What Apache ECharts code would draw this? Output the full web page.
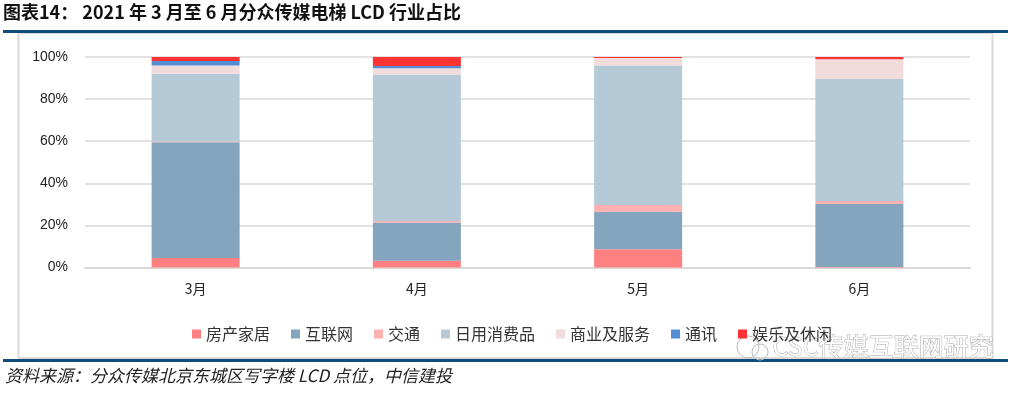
<!DOCTYPE html>
<html><head><meta charset="utf-8">
<script src="https://cdn.jsdelivr.net/npm/echarts@6/dist/echarts.min.js"></script>
<style>html,body{margin:0;padding:0;background:#fff}#c{width:1028px;height:394px}</style>
</head><body><div id="c"></div>
<script>
const categories = ['3月', '4月', '5月', '6月'];
const seriesNames = ['房产家居', '互联网', '交通', '日用消费品', '商业及服务', '通讯', '娱乐及休闲'];
const fangchan   = [4.5, 3.2, 8.7, 0.2];
const hulianwang = [55.0, 18.2, 17.8, 30.0];
const jiaotong   = [0.3, 0.7, 3.2, 1.4];
const riyong     = [32.3, 69.6, 66.3, 57.9];
const shangye    = [3.9, 2.9, 3.5, 9.4];
const tongxun    = [2.1, 1.1, 0, 0];
const yule       = [1.9, 4.3, 0.5, 1.1];
const seriesValues = [fangchan, hulianwang, jiaotong, riyong, shangye, tongxun, yule];
const colors = ['#FF8080', '#84A5BD', '#FFB0B0', '#B5C9D7', '#F2DCDB', '#558ED5', '#FF3333'];
const titleText = '图表14： 2021 年 3 月至 6 月分众传媒电梯 LCD 行业占比';
const sourceText = '资料来源：分众传媒北京东城区写字楼 LCD 点位，中信建投';
const watermarkText = 'CSC传媒互联网研究';

const chart = echarts.init(document.getElementById('c'), null, {renderer: 'canvas'});
const cjk = '"Noto Sans CJK SC", "Liberation Sans", sans-serif';
const option = {
  animation: false,
  backgroundColor: '#fff',
  color: colors,
  grid: {left: 85, right: 58, top: 57, bottom: 126.5, containLabel: false},
  legend: {
    left: 187, top: 321,
    icon: 'rect', itemWidth: 9, itemHeight: 9, itemGap: 21,
    textStyle: {fontFamily: cjk, fontSize: 16, color: '#333'},
    data: seriesNames
  },
  xAxis: {
    type: 'category', data: categories,
    axisLine: {lineStyle: {color: '#D9D9D9', width: 2}},
    axisTick: {show: false},
    axisLabel: {fontFamily: cjk, fontSize: 14, color: '#222', margin: 14}
  },
  yAxis: {
    type: 'value', min: 0, max: 100, interval: 20,
    axisLine: {show: false}, axisTick: {show: false},
    splitLine: {lineStyle: {color: '#D9D9D9', width: 1.5}},
    axisLabel: {formatter: '{value}%', fontFamily: '"Liberation Sans", sans-serif', fontSize: 14, color: '#222', margin: 17}
  },
  series: seriesNames.map((n, i) => ({
    name: n, type: 'bar', stack: 'total', barWidth: 88,
    data: seriesValues[i],
    itemStyle: {color: colors[i]}
  })),
  graphic: [
    {type: 'text', left: 3, top: 3, style: {text: titleText, font: 'bold 18px ' + cjk, fill: '#111'}},
    {type: 'rect', shape: {x: 3, y: 30, width: 1005, height: 3}, style: {fill: '#0E4C7E'}},
    {type: 'rect', shape: {x: 18.5, y: 33, width: 974, height: 325}, style: {fill: 'none', stroke: '#DADADA', lineWidth: 2}, z: -1},
    {type: 'rect', shape: {x: 3, y: 359, width: 1005, height: 3}, style: {fill: '#0E4C7E'}},
    {type: 'text', left: 5, top: 367, style: {text: sourceText, font: 'italic 17px ' + cjk, fill: '#222'}},
    {type: 'circle', shape: {cx: 748, cy: 347, r: 11}, style: {fill: 'none', stroke: '#bbb', lineWidth: 1}},
    {type: 'circle', shape: {cx: 760, cy: 352, r: 8}, style: {fill: 'none', stroke: '#bbb', lineWidth: 1}},
    {type: 'text', left: 772, top: 333, style: {text: watermarkText, font: '25px ' + cjk, fill: '#fff', stroke: '#aaa', lineWidth: 1}}
  ]
};
chart.setOption(option);
</script></body></html>
